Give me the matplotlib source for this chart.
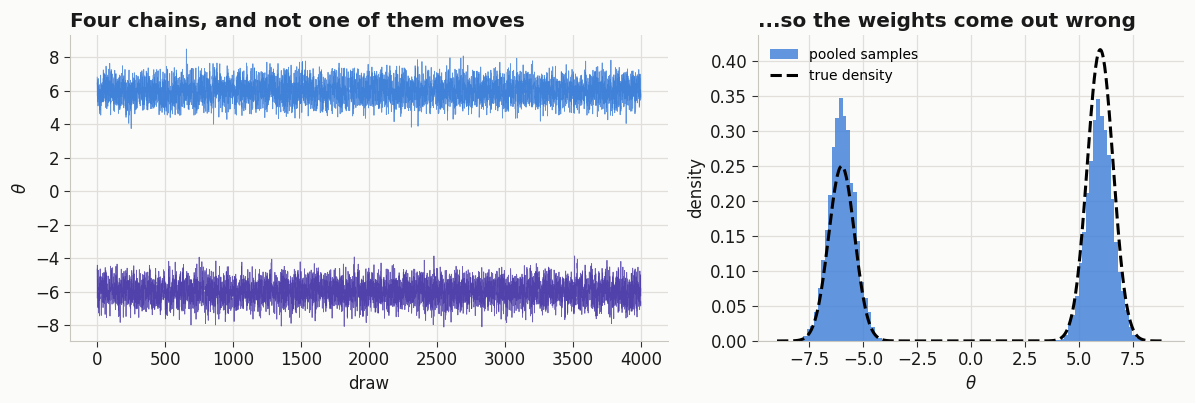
import matplotlib
matplotlib.use("Agg")
import matplotlib.pyplot as plt
import numpy as np

# values
n_draws = 4000
chain_means = [6.0, 6.0, -6.0, -6.0]
chain_sd = 0.6
chain_colors = ["#3a7dd8", "#3a7dd8", "#4a3aa8", "#4a3aa8"]
true_means = [-6.0, 6.0]
true_sd = [0.6, 0.6]
true_weights = [0.375, 0.625]
grid_lo, grid_hi = -9.0, 9.0

# individual draws can't be read from the picture, so the chains are
# simulated (seeded) around the levels above
rng = np.random.default_rng(7)
phi = 0.3
chains = []
for m in chain_means:
    e = rng.normal(0, chain_sd * np.sqrt(1 - phi**2), n_draws)
    x = np.empty(n_draws)
    x[0] = rng.normal(0, chain_sd)
    for t in range(1, n_draws):
        x[t] = phi * x[t - 1] + e[t]
    chains.append(m + x)
pooled = np.concatenate(chains)

xs = np.linspace(grid_lo, grid_hi, 600)
dens = np.zeros_like(xs)
for mu, sd, w in zip(true_means, true_sd, true_weights):
    dens += w * np.exp(-0.5 * ((xs - mu) / sd) ** 2) / (sd * np.sqrt(2 * np.pi))

bg = "#fbfbf9"
gridc = "#e2dfda"
spinec = "#c9c6c0"
txt = "#1a1a1a"
plt.rcParams["font.family"] = ["DejaVu Sans"]

fig = plt.figure(figsize=(11.95, 4.03), dpi=100, facecolor=bg)
ax1 = fig.add_axes([0.0586, 0.154, 0.5004, 0.759])
ax2 = fig.add_axes([0.634, 0.154, 0.357, 0.759])

for ax in (ax1, ax2):
    ax.set_facecolor(bg)
    ax.grid(True, color=gridc, linewidth=0.9)
    ax.set_axisbelow(True)
    for s in ("top", "right"):
        ax.spines[s].set_visible(False)
    for s in ("left", "bottom"):
        ax.spines[s].set_color(spinec)
    ax.tick_params(colors="#333333", labelcolor=txt, labelsize=12, length=4)

draw = np.arange(n_draws)
for c, col in zip(chains, chain_colors):
    ax1.plot(draw, c, color=col, linewidth=0.6, alpha=0.8)
ax1.set_yticks(np.arange(-8, 9, 2))
ax1.set_xlabel("draw", fontsize=12, color=txt)
ax1.set_ylabel(r"$\theta$", fontsize=12, color=txt)
ax1.set_title("Four chains, and not one of them moves", loc="left",
              fontsize=14.4, fontweight="bold", color=txt)

ax2.hist(pooled, bins=100, density=True, color="#3a7dd8", alpha=0.8,
         label="pooled samples")
ax2.plot(xs, dens, color="black", linestyle="--", linewidth=2.2,
         label="true density")
ax2.set_xticks([-7.5, -5.0, -2.5, 0.0, 2.5, 5.0, 7.5])
ax2.set_xlabel(r"$\theta$", fontsize=12, color=txt)
ax2.set_ylabel("density", fontsize=12, color=txt)
ax2.set_title("...so the weights come out wrong", loc="left",
              fontsize=14.4, fontweight="bold", color=txt)
ax2.legend(loc="upper left", frameon=False, fontsize=10)

fig.savefig("out.png", dpi=100, facecolor=bg)
